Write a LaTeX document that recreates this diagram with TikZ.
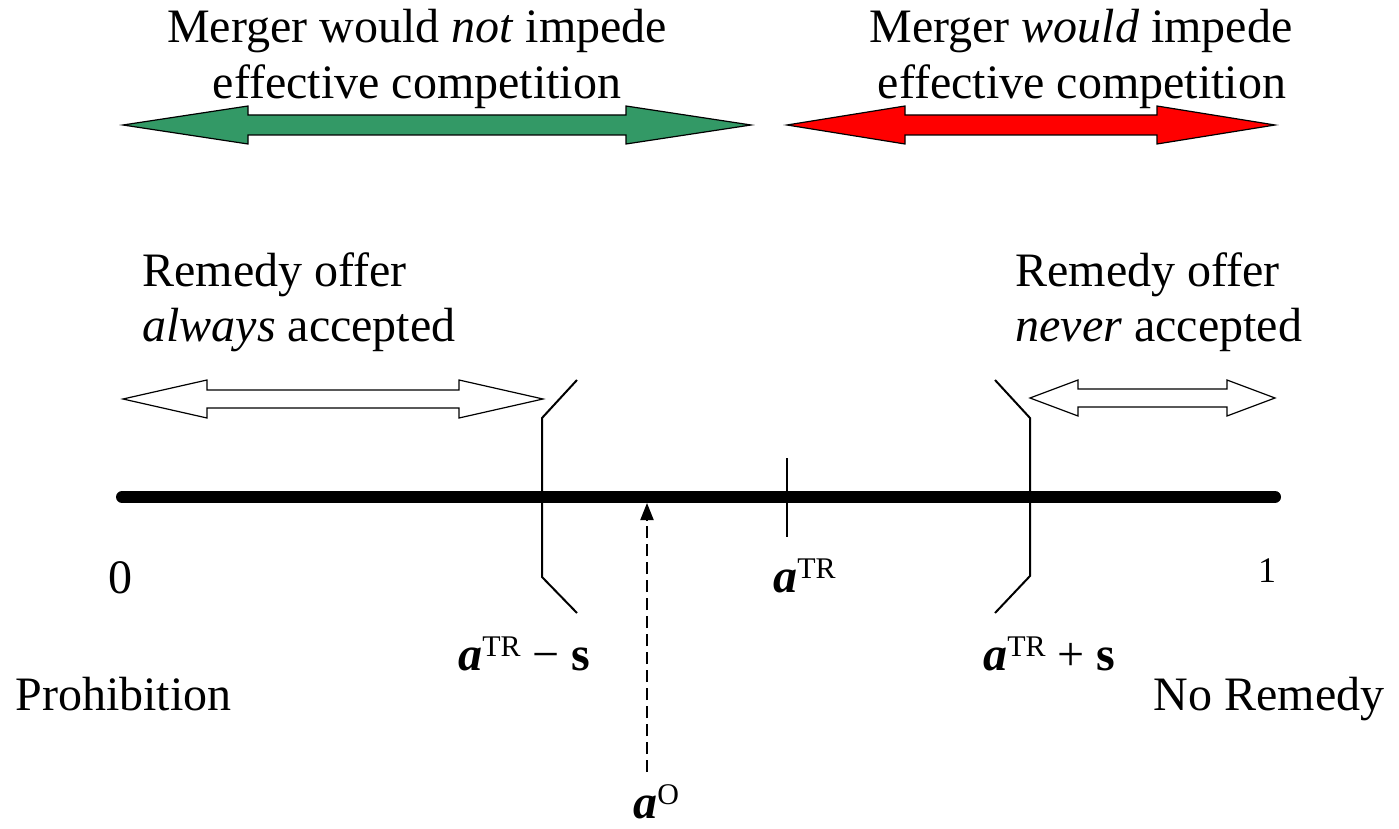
\documentclass[tikz,border=0pt]{standalone}
\usepackage{fontspec}
\setmainfont{Liberation Serif}
\usetikzlibrary{arrows.meta}
\definecolor{mgreen}{HTML}{339966}
\definecolor{mred}{HTML}{FF0000}
\newcommand{\atr}{\textbf{\textit{a}}\raisebox{7pt}{\fontsize{15}{15}\selectfont TR}}
% double-headed block arrow: x1, x2, y, head length, head half-height, shaft half-height
\newcommand{\dblarrow}[7]{%
  \filldraw[#1] (#2,#4) -- ({#2+#5},{#4-#6}) -- ({#2+#5},{#4-#7}) -- ({#3-#5},{#4-#7})
    -- ({#3-#5},{#4-#6}) -- (#3,#4) -- ({#3-#5},{#4+#6}) -- ({#3-#5},{#4+#7})
    -- ({#2+#5},{#4+#7}) -- ({#2+#5},{#4+#6}) -- cycle;}

\begin{document}
\begin{tikzpicture}[x=0.5pt, y=-0.5pt,
  lbl/.style={inner sep=0pt, font=\fontsize{24}{28}\selectfont},
  blockarr/.style={draw=black, line width=0.6pt, line join=miter},
  brk/.style={line width=1pt},
  axisline/.style={line width=6pt, line cap=round}]
\useasboundingbox (0,0) rectangle (1399,829);

% top: competition effect
\node[lbl, anchor=base] (notimp1) at (417,43) {Merger would \textit{not} impede};
\node[lbl, anchor=base] (notimp2) at (417,99) {effective competition};
\node[lbl, anchor=base] (imp1) at (1081,43) {Merger \textit{would} impede};
\node[lbl, anchor=base] (imp2) at (1082,99) {effective competition};
\dblarrow{blockarr, fill=mgreen}{123}{751}{125}{125}{19}{10}
\dblarrow{blockarr, fill=mred}{787}{1275}{125}{118}{19}{10}

% remedy regions
\node[lbl, anchor=base west] (alw1) at (142,286) {Remedy offer};
\node[lbl, anchor=base west] (alw2) at (142,341) {\textit{always} accepted};
\node[lbl, anchor=base west] (nev1) at (1015,286) {Remedy offer};
\node[lbl, anchor=base west] (nev2) at (1015,341) {\textit{never} accepted};
\dblarrow{blockarr, fill=white}{123}{543}{399}{84}{19}{9}
\dblarrow{blockarr, fill=white}{1030}{1275}{398}{48}{18}{9}

% the axis
\coordinate (zero) at (122,497);
\coordinate (one) at (1275,497);
\draw[axisline] (zero) -- (one);
\draw[brk] (787,458) -- (787,537);
\draw[brk] (577,380) -- (542,418) -- (542,577) -- (577,613);
\draw[brk] (995,380) -- (1030,418) -- (1030,576) -- (995,613);

\node[lbl, anchor=base] (lab0) at (120,593) {0};
\node[lbl, anchor=base, font=\fontsize{18}{18}\selectfont] (lab1) at (1267,582) {1};
\node[lbl, anchor=base west] (labtr) at (773,592) {\atr};
\node[lbl, anchor=base west] (lablo) at (458,670) {\atr\ − \textbf{s}};
\node[lbl, anchor=base west] (labhi) at (983,670) {\atr\ + \textbf{s}};
\node[lbl, anchor=base west] (prohib) at (15,710) {Prohibition};
\node[lbl, anchor=base east] (norem) at (1385,710) {No Remedy};

% outcome
\node[lbl, anchor=base west] (ao) at (633,818) {\textbf{\textit{a}}\raisebox{7pt}{\fontsize{15}{15}\selectfont O}};
\coordinate (aobot) at (647,772);
\coordinate (aotop) at (647,503);
\draw[line width=1pt, dash pattern=on 6pt off 3pt, -{Triangle[length=8.5pt, width=6.5pt]}] (aobot) -- (aotop);
\end{tikzpicture}
\end{document}
